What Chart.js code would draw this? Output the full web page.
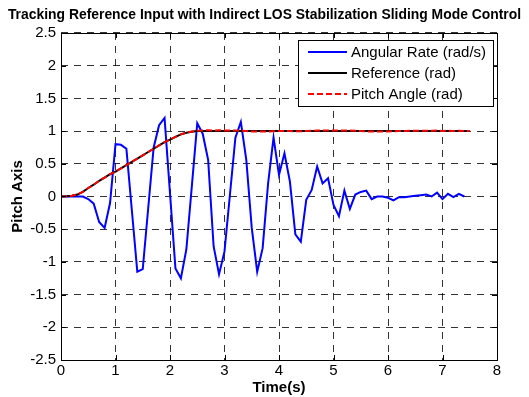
<!DOCTYPE html>
<html>
<head>
<meta charset="utf-8">
<script src="https://cdn.jsdelivr.net/npm/chart.js@4.4.0/dist/chart.umd.min.js"></script>
<style>
  html, body { margin: 0; padding: 0; background: #fff; }
  #wrap { width: 529px; height: 397px; position: relative; }
</style>
</head>
<body>
<div id="wrap"><canvas id="chartPitch"></canvas></div>
<script>
// time samples (s)
const timeSec = [
  0, 0.1, 0.2, 0.3, 0.4, 0.5, 0.6, 0.7, 0.8, 0.9,
  1.0, 1.1, 1.2, 1.3, 1.4, 1.5, 1.6, 1.7, 1.8, 1.9,
  2.0, 2.1, 2.2, 2.3, 2.4, 2.5, 2.6, 2.7, 2.8, 2.9,
  3.0, 3.1, 3.2, 3.3, 3.4, 3.5, 3.6, 3.7, 3.8, 3.9,
  4.0, 4.1, 4.2, 4.3, 4.4, 4.5, 4.6, 4.7, 4.8, 4.9,
  5.0, 5.1, 5.2, 5.3, 5.4, 5.5, 5.6, 5.7, 5.8, 5.9,
  6.0, 6.1, 6.2, 6.3, 6.4, 6.5, 6.6, 6.7, 6.8, 6.9,
  7.0, 7.1, 7.2, 7.3, 7.4, 7.5
];

// angular rate (rad/s), one sample shorter
const angularRate = [
  0, 0, 0, 0, 0, -0.04, -0.11, -0.39, -0.48, -0.10,
  0.80, 0.79, 0.73, -0.21, -1.15, -1.11, -0.18, 0.75, 1.09, 1.20,
  0.05, -1.10, -1.25, -0.81, 0.15, 1.12, 0.96, 0.56, -0.76, -1.19,
  -0.84, 0.03, 0.90, 1.14, 0.56, -0.48, -1.15, -0.79, 0.20, 0.90,
  0.33, 0.66, 0.23, -0.58, -0.69, -0.05, 0.10, 0.46, 0.20, 0.28,
  -0.13, -0.30, 0.09, -0.19, 0.03, 0.07, 0.09, -0.04, 0, 0,
  -0.02, -0.06, -0.01, -0.01, 0, 0.01, 0.02, 0.03, 0, 0.06,
  -0.04, 0.04, -0.01, 0.04, 0
];

// reference input (rad)
const referenceRad = [
  0, 0.003, 0.012, 0.03, 0.07, 0.13, 0.18, 0.24, 0.29, 0.34,
  0.38, 0.43, 0.48, 0.53, 0.58, 0.63, 0.68, 0.73, 0.78, 0.83,
  0.87, 0.91, 0.95, 0.975, 0.99, 1, 1, 1, 1, 1,
  1, 1, 1, 1, 1, 1, 1, 1, 1, 1,
  1, 1, 1, 1, 1, 1, 1, 1, 1, 1,
  1, 1, 1, 1, 1, 1, 1, 1, 1, 1,
  1, 1, 1, 1, 1, 1, 1, 1, 1, 1,
  1, 1, 1, 1, 1, 1
];

// pitch angle (rad)
const pitchRad = [
  0, 0.003, 0.012, 0.031, 0.07, 0.13, 0.18, 0.24, 0.29, 0.34,
  0.38, 0.43, 0.48, 0.53, 0.58, 0.63, 0.68, 0.73, 0.78, 0.83,
  0.87, 0.91, 0.95, 0.977, 0.995, 1.005, 1.01, 1.012, 1.01, 1.012,
  1.01, 1.008, 1.01, 1.005, 1.0, 0.995, 0.992, 0.993, 0.995, 0.998,
  1.0, 1.0, 1.0, 0.998, 0.998, 1.0, 1.005, 1.01, 1.01, 1.01,
  1.008, 1.01, 1.01, 1.008, 1.005, 1.0, 0.995, 0.992, 0.992, 0.994,
  0.995, 0.996, 1.0, 1.003, 1.005, 1.006, 1.007, 1.007, 1.005, 1.008,
  1.0, 1.006, 1.0, 1.005, 1.002, 1.003
];

const xTicks = [0, 1, 2, 3, 4, 5, 6, 7, 8];
const yTicks = [-2.5, -2, -1.5, -1, -0.5, 0, 0.5, 1, 1.5, 2, 2.5];

function pairs(vals) {
  return vals.map((v, i) => ({ x: timeSec[i], y: v }));
}

Chart.defaults.font.family = '"Liberation Sans", Arial, sans-serif';
Chart.defaults.color = '#000';

// black box round the plot area, inward ticks, legend inside the axes (matlab style)
const axesBox = {
  id: 'axesBox',
  afterDraw(chart) {
    const ctx = chart.ctx;
    const a = chart.chartArea;
    const xs = chart.scales.x, ys = chart.scales.y;
    ctx.save();
    ctx.strokeStyle = '#000';
    ctx.lineWidth = 1;
    ctx.setLineDash([]);
    ctx.strokeRect(Math.round(a.left) + 0.5, Math.round(a.top) + 0.5,
      Math.round(a.right - a.left), Math.round(a.bottom - a.top));
    ctx.beginPath();
    xTicks.forEach(v => {
      const px = Math.round(xs.getPixelForValue(v)) + 0.5;
      ctx.moveTo(px, a.bottom); ctx.lineTo(px, a.bottom - 5);
      ctx.moveTo(px, a.top); ctx.lineTo(px, a.top + 5);
    });
    yTicks.forEach(v => {
      const py = Math.round(ys.getPixelForValue(v)) + 0.5;
      ctx.moveTo(a.left, py); ctx.lineTo(a.left + 5, py);
      ctx.moveTo(a.right, py); ctx.lineTo(a.right - 5, py);
    });
    ctx.stroke();

    // legend
    const bx = 298, by = 40, bw = 195, bh = 66;
    ctx.fillStyle = '#fff';
    ctx.fillRect(bx, by, bw, bh);
    ctx.strokeRect(bx + 0.5, by + 0.5, bw, bh);
    ctx.font = '15px "Liberation Sans", Arial, sans-serif';
    ctx.textBaseline = 'middle';
    chart.data.datasets.forEach((ds, i) => {
      const yy = by + 12 + i * 21;
      ctx.strokeStyle = ds.borderColor;
      ctx.lineWidth = 2;
      ctx.setLineDash(ds.borderDash || []);
      ctx.beginPath();
      ctx.moveTo(308, yy);
      ctx.lineTo(347, yy);
      ctx.stroke();
      ctx.setLineDash([]);
      ctx.fillStyle = '#000';
      ctx.fillText(ds.label, 351, yy + 1);
    });
    ctx.restore();
  }
};

const tickFmt = (v) => String(v);

const ctx = document.getElementById('chartPitch').getContext('2d');
new Chart(ctx, {
  type: 'line',
  data: {
    datasets: [
      {
        label: 'Angular Rate (rad/s)',
        data: pairs(angularRate),
        borderColor: '#0000ff',
        borderWidth: 2,
        pointRadius: 0,
        tension: 0,
        order: 3
      },
      {
        label: 'Reference (rad)',
        data: pairs(referenceRad),
        borderColor: '#000000',
        borderWidth: 2,
        pointRadius: 0,
        tension: 0,
        order: 2
      },
      {
        label: 'Pitch Angle (rad)',
        data: pairs(pitchRad),
        borderColor: '#ff0000',
        borderWidth: 2,
        borderDash: [6, 3],
        pointRadius: 0,
        tension: 0,
        order: 1
      }
    ]
  },
  options: {
    responsive: true,
    maintainAspectRatio: false,
    animation: false,
    plugins: {
      legend: { display: false },
      tooltip: { enabled: false },
      title: {
        display: true,
        text: 'Tracking Reference Input with Indirect LOS Stabilization Sliding Mode Control',
        font: { size: 13.9, weight: 'bold' },
        color: '#000',
        padding: { top: 7, bottom: 9.3 }
      }
    },
    scales: {
      x: {
        type: 'linear',
        min: 0,
        max: 8,
        afterBuildTicks: (s) => { s.ticks = xTicks.map(v => ({ value: v })); },
        afterFit: (s) => { s.height = 37; },
        ticks: { font: { size: 15 }, padding: 2, color: '#000', callback: tickFmt },
        grid: { color: 'rgba(0,0,0,0.8)', drawTicks: false, lineWidth: 1 },
        border: { display: false, dash: [7, 6] },
        title: { display: true, text: 'Time(s)', font: { size: 15, weight: 'bold' }, padding: 0, color: '#000' }
      },
      y: {
        type: 'linear',
        min: -2.5,
        max: 2.5,
        afterBuildTicks: (s) => { s.ticks = yTicks.map(v => ({ value: v })); },
        afterFit: (s) => { s.width = 61; },
        ticks: { font: { size: 15 }, padding: 5, color: '#000', callback: tickFmt },
        grid: { color: 'rgba(0,0,0,0.8)', drawTicks: false, lineWidth: 1 },
        border: { display: false, dash: [7, 6] },
        title: { display: true, text: 'Pitch Axis', font: { size: 15, weight: 'bold' }, padding: { top: 9, bottom: 0 }, color: '#000' }
      },
      // empty right-hand strip so the title stays centred on the figure
      yRight: {
        type: 'linear',
        position: 'right',
        min: -2.5,
        max: 2.5,
        afterFit: (s) => { s.width = 32; },
        ticks: { display: false },
        grid: { display: false },
        border: { display: false }
      }
    }
  },
  plugins: [axesBox]
});
</script>
</body>
</html>
